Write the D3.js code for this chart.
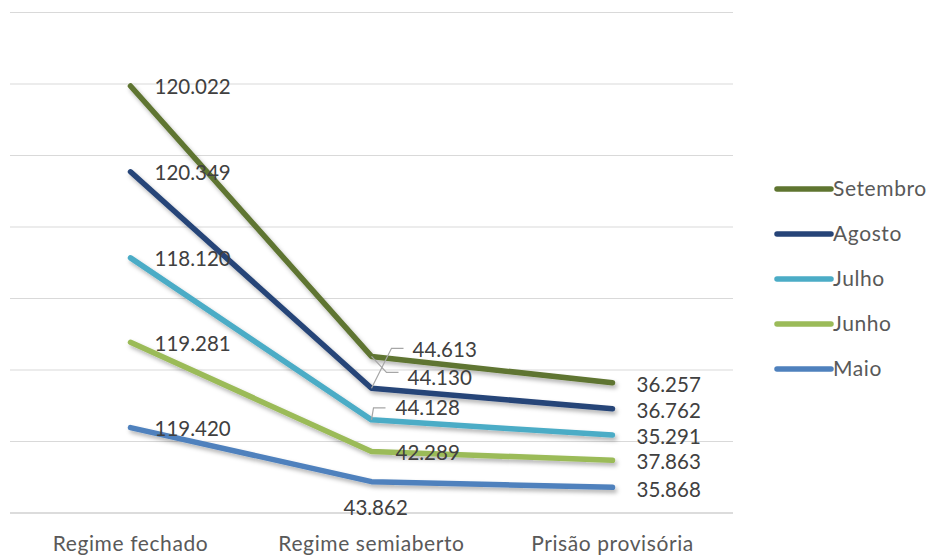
<!DOCTYPE html>
<html>
<head>
<meta charset="utf-8">
<script src="https://cdn.jsdelivr.net/npm/d3@7"></script>
<style>
  body { margin: 0; background: #fff; }
  text { font-family: Lato, "Open Sans", sans-serif; }
</style>
</head>
<body>
<div id="chart"></div>
<script>
// Data (stacked lines)
var categories = ["Regime fechado", "Regime semiaberto", "Prisão provisória"];
var seriesNames = ["Maio", "Junho", "Julho", "Agosto", "Setembro"];
var maio = [119420, 43862, 35868];
var junho = [119281, 42289, 37863];
var julho = [118120, 44128, 35291];
var agosto = [120349, 44130, 36762];
var setembro = [120022, 44613, 36257];
var yTicks = [0, 100000, 200000, 300000, 400000, 500000, 600000, 700000];

var colors = {
  "Maio": "#4f81bd",
  "Junho": "#9bbb59",
  "Julho": "#4bacc6",
  "Agosto": "#264478",
  "Setembro": "#5f7530"
};

var svgWidth = 932;
var svgHeight = 555;
var plot = { left: 10, right: 733, top: 12.5, bottom: 513 };

var svg = d3.select("#chart")
  .append("svg")
  .attr("width", svgWidth)
  .attr("height", svgHeight);

// soft shadow under the lines, like the Excel style
var filter = svg.append("defs").append("filter")
  .attr("id", "shadow")
  .attr("x", "-10%").attr("y", "-10%")
  .attr("width", "130%").attr("height", "140%");
filter.append("feDropShadow")
  .attr("dx", 2).attr("dy", 3)
  .attr("stdDeviation", 2)
  .attr("flood-color", "#000")
  .attr("flood-opacity", 0.3);

var xScale = d3.scaleBand()
  .domain(categories)
  .range([plot.left, plot.right]);

var yScale = d3.scaleLinear()
  .domain([0, 700000])
  .range([plot.bottom, plot.top]);

// gridlines
svg.append("g")
  .selectAll("line")
  .data(yTicks)
  .enter()
  .append("line")
  .attr("x1", plot.left)
  .attr("x2", plot.right)
  .attr("y1", d => yScale(d))
  .attr("y2", d => yScale(d))
  .attr("stroke", d => d === 0 ? "#d0d0d0" : "#d9d9d9")
  .attr("stroke-width", d => d === 0 ? 1.5 : 1);

// category labels
svg.append("g")
  .selectAll("text")
  .data(categories)
  .enter()
  .append("text")
  .attr("x", d => xScale(d) + xScale.bandwidth() / 2)
  .attr("y", 551)
  .attr("text-anchor", "middle")
  .attr("font-size", "21px")
  .attr("letter-spacing", "0.6px")
  .attr("fill", "#595959")
  .text(d => d);

// stack the series
var table = categories.map(function(c, i) {
  return { cat: c, Maio: maio[i], Junho: junho[i], Julho: julho[i], Agosto: agosto[i], Setembro: setembro[i] };
});
var stacked = d3.stack().keys(seriesNames)(table);

var cx = d => xScale(d.data.cat) + xScale.bandwidth() / 2;

var line = d3.line()
  .x(cx)
  .y(d => yScale(d[1]));

svg.append("g")
  .attr("filter", "url(#shadow)")
  .selectAll("path")
  .data(stacked)
  .enter()
  .append("path")
  .attr("d", d => line(d))
  .attr("fill", "none")
  .attr("stroke", d => colors[d.key])
  .attr("stroke-width", 5.5)
  .attr("stroke-linecap", "round")
  .attr("stroke-linejoin", "round");

// data labels: offsets relative to each point (manually placed in the original)
var labelOffsets = {
  "Maio":     [[24, 1], [-28, 26], [24, 2]],
  "Junho":    [[24, 1], [24, 1], [24, 2]],
  "Julho":    [[24, 1], [24, -12], [24, 2]],
  "Agosto":   [[24, 1], [36, -10], [24, 2]],
  "Setembro": [[24, 1], [41, -7], [24, 2]]
};

var labelGroup = svg.append("g");
stacked.forEach(function(s) {
  s.forEach(function(d, i) {
    var off = labelOffsets[s.key][i];
    labelGroup.append("text")
      .attr("x", cx(d) + off[0])
      .attr("y", yScale(d[1]) + off[1])
      .attr("dy", "0.35em")
      .attr("font-size", "20.5px")
      .attr("fill", "#404040")
      .text(d3.format(",")(d[1] - d[0]).replace(/,/g, "."));
  });
});

// leader lines for the crowded semiaberto labels
var semi = 1;
var pt = function(key) {
  var s = stacked.find(x => x.key === key);
  return [cx(s[semi]), yScale(s[semi][1])];
};
var leaders = [
  { key: "Setembro", pts: [[0, 0], [15, 16], [27, 16]] },
  { key: "Agosto", pts: [[0, 0], [20, -40], [32, -40]] },
  { key: "Julho", pts: [[0, 0], [2, -12], [14, -12]] }
];
leaders.forEach(function(l) {
  var p = pt(l.key);
  labelGroup.append("polyline")
    .attr("points", l.pts.map(q => (p[0] + q[0]) + "," + (p[1] + q[1])).join(" "))
    .attr("fill", "none")
    .attr("stroke", "#a6a6a6")
    .attr("stroke-width", 1.2);
});

// legend
var legend = svg.append("g")
  .selectAll("g")
  .data(seriesNames.slice().reverse())
  .enter()
  .append("g")
  .attr("transform", (d, i) => `translate(775, ${189 + i * 45})`);

legend.append("line")
  .attr("x1", 2)
  .attr("x2", 56)
  .attr("stroke", d => colors[d])
  .attr("stroke-width", 5.5)
  .attr("stroke-linecap", "round");

legend.append("text")
  .attr("x", 58)
  .attr("dy", "0.35em")
  .attr("font-size", "21px")
  .attr("letter-spacing", "0.6px")
  .attr("fill", "#595959")
  .text(d => d);
</script>
</body>
</html>
